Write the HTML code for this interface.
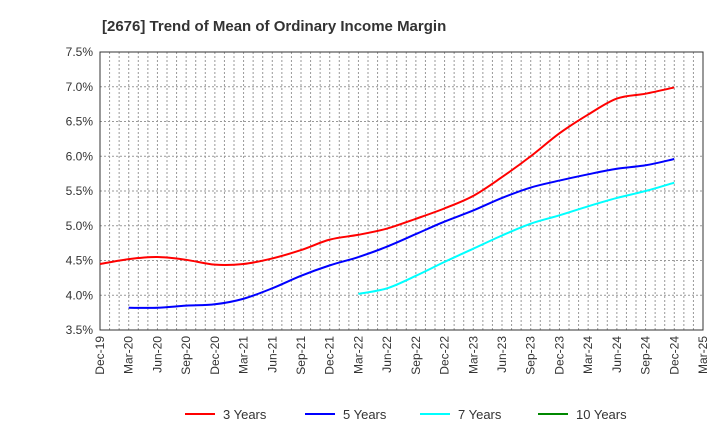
<!DOCTYPE html>
<html><head><meta charset="utf-8"><style>
body{margin:0;background:#fff;font-family:"Liberation Sans",sans-serif}
</style></head><body>
<svg id="c" width="720" height="440" xmlns="http://www.w3.org/2000/svg">
<text x="102" y="31" font-size="15" font-weight="bold" fill="#333">[2676]  Trend of Mean of Ordinary Income Margin</text>
<g id="grid"></g><g id="axes"></g><g id="series"></g><g id="legend"></g>
</svg>
<script>
const xLabels=["Dec-19","Mar-20","Jun-20","Sep-20","Dec-20","Mar-21","Jun-21","Sep-21","Dec-21","Mar-22","Jun-22","Sep-22","Dec-22","Mar-23","Jun-23","Sep-23","Dec-23","Mar-24","Jun-24","Sep-24","Dec-24","Mar-25"];
const yTicks=[3.5,4.0,4.5,5.0,5.5,6.0,6.5,7.0,7.5];
const y3=[4.45,4.52,4.55,4.51,4.44,4.45,4.53,4.65,4.80,4.87,4.96,5.10,5.25,5.43,5.70,6.00,6.33,6.60,6.83,6.90,6.99];
const y5=[null,3.82,3.82,3.85,3.87,3.95,4.10,4.28,4.43,4.55,4.70,4.88,5.06,5.22,5.40,5.55,5.65,5.74,5.82,5.87,5.96];
const y7=[null,null,null,null,null,null,null,null,null,4.02,4.10,4.28,4.48,4.67,4.86,5.03,5.15,5.28,5.40,5.50,5.62];
const y10=[];
const NS="http://www.w3.org/2000/svg";
const L=100,R=703,T=52,B=330;
const xq=i=>L+(R-L)*i/21, xm=m=>L+(R-L)*m/63;
const ys=v=>B-(v-3.5)/4*(B-T);
function mk(p,t,a){const e=document.createElementNS(NS,t);for(const k in a)e.setAttribute(k,a[k]);p.appendChild(e);return e;}
const g=document.getElementById('grid'),ax=document.getElementById('axes'),s=document.getElementById('series'),lg=document.getElementById('legend');
for(let m=1;m<63;m++){const l=mk(g,'line',{x1:xm(m),x2:xm(m),y1:T,y2:B,stroke:'#999','stroke-dasharray':'2,2','stroke-width':1});

}
yTicks.forEach(v=>{const l=mk(g,'line',{x1:L,x2:R,y1:ys(v),y2:ys(v),stroke:'#999','stroke-dasharray':'2,2','stroke-width':1});


const t=mk(ax,'text',{x:L-7,y:ys(v)+4,'text-anchor':'end','font-size':12,fill:'#333'});t.textContent=v.toFixed(1)+'%';

});
const fr=mk(ax,'rect',{x:L,y:T,width:R-L,height:B-T,fill:'none',stroke:'#333','stroke-width':1});


xLabels.forEach((lb,i)=>{const x=xq(i);const t=mk(ax,'text',{x:x+4,y:B+6,'text-anchor':'end','font-size':12,fill:'#333',transform:`rotate(-90 ${x+4} ${B+6})`});t.textContent=lb;

});
function path(arr){const p=[];arr.forEach((v,i)=>{if(v!=null)p.push([xq(i),ys(v)]);});if(p.length<2)return '';
let d=`M${p[0][0]},${p[0][1]}`;for(let i=0;i<p.length-1;i++){const p0=p[Math.max(0,i-1)],p1=p[i],p2=p[i+1],p3=p[Math.min(p.length-1,i+2)];
d+=` C${p1[0]+(p2[0]-p0[0])/6},${p1[1]+(p2[1]-p0[1])/6} ${p2[0]-(p3[0]-p1[0])/6},${p2[1]-(p3[1]-p1[1])/6} ${p2[0]},${p2[1]}`;}return d;}
const S=[["3 Years",y3,"#f00",185],["5 Years",y5,"#00f",305],["7 Years",y7,"#0ff",420],["10 Years",y10,"#080",538]];
S.forEach(([n,a,c,lx])=>{const d=path(a);if(d){const e=mk(s,'path',{d:d,fill:'none',stroke:c,'stroke-width':2});

}
const li=mk(lg,'line',{x1:lx,x2:lx+30,y1:414,y2:414,stroke:c,'stroke-width':2});


const t=mk(lg,'text',{x:lx+38,y:419,'font-size':13,fill:'#333'});t.textContent=n;

});
</script>
</body></html>
